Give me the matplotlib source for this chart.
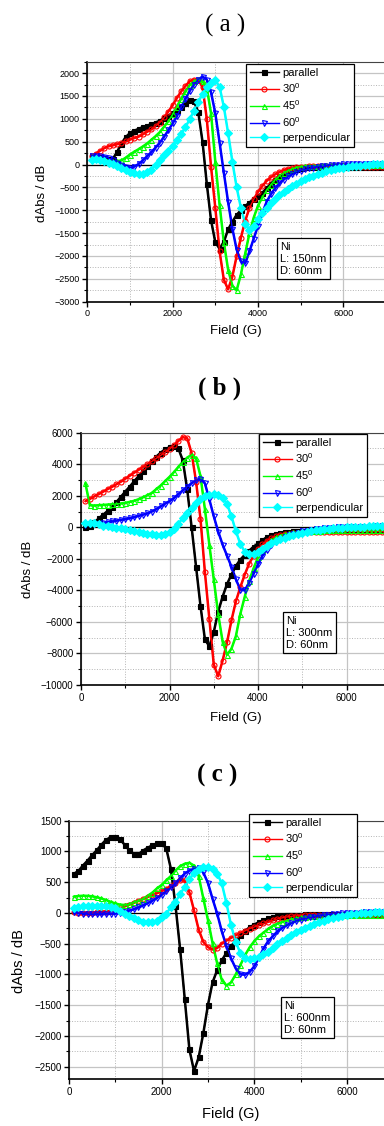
import matplotlib
matplotlib.use('Agg')
import matplotlib.pyplot as plt
from matplotlib.ticker import MultipleLocator

plt.rcParams['font.family'] = ['Liberation Sans', 'DejaVu Sans']
plt.rcParams['mathtext.default'] = 'regular'

# field axis (G), same sampling for every curve
field = list(range(100, 7001, 100))

labels = ['parallel', '30$^{0}$', '45$^{0}$', '60$^{0}$', 'perpendicular']

# ---- (a) L: 150nm ----
a_par = [180, 175, 165, 150, 130, 125, 280, 460, 600, 690,
         740, 780, 820, 850, 885, 920, 960, 1015, 1070, 1130,
         1195, 1270, 1350, 1405, 1380, 1150, 500, -420, -1220, -1700,
         -1840, -1690, -1420, -1250, -1100, -1000, -910, -830, -755, -690,
         -620, -520, -420, -330, -260, -200, -150, -115, -88, -68,
         -58, -52, -48, -45, -43, -42, -42, -42, -43, -44,
         -44, -45, -45, -46, -46, -47, -47, -48, -48, -48]
a_30 = [190, 240, 300, 360, 400, 420, 445, 470, 505, 545,
        580, 610, 660, 715, 770, 840, 920, 1030, 1160, 1300,
        1455, 1600, 1720, 1820, 1860, 1850, 1700, 1000, -50, -950,
        -1900, -2520, -2730, -2450, -2000, -1600, -1230, -950, -760, -600,
        -470, -360, -280, -215, -165, -125, -95, -75, -60, -50,
        -45, -42, -40, -39, -38, -38, -38, -39, -40, -40,
        -41, -42, -42, -43, -43, -44, -44, -45, -45, -45]
a_45 = [180, 165, 140, 115, 95, 80, 75, 90, 150, 220,
        280, 335, 395, 460, 540, 620, 710, 830, 950, 1100,
        1270, 1440, 1600, 1740, 1825, 1865, 1830, 1680, 1120, 60,
        -880, -1700, -2300, -2650, -2750, -2400, -1950, -1500, -1160, -900,
        -720, -560, -440, -330, -250, -185, -135, -95, -65, -45,
        -35, -28, -24, -21, -20, -19, -18, -18, -18, -18,
        -18, -18, -18, -18, -18, -18, -18, -18, -18, -18]
a_60 = [190, 192, 190, 175, 140, 95, 45, 0, -45, -75,
        -45, 10, 90, 180, 270, 370, 480, 610, 750, 900,
        1060, 1250, 1440, 1610, 1750, 1860, 1925, 1860, 1580, 1120,
        480, -180, -820, -1400, -1860, -2120, -2160, -1900, -1620, -1340,
        -1060, -820, -650, -520, -410, -330, -260, -210, -165, -130,
        -105, -85, -65, -50, -38, -25, -15, -8, -2, 2,
        5, 7, 9, 10, 11, 12, 13, 14, 15, 15]
a_perp = [110, 115, 105, 80, 45, 5, -40, -85, -125, -160,
          -185, -205, -205, -170, -110, -10, 100, 200, 300, 410,
          530, 670, 820, 990, 1180, 1360, 1550, 1690, 1785, 1845,
          1700, 1260, 690, 60, -500, -950, -1290, -1430, -1350, -1180,
          -1050, -940, -840, -750, -670, -600, -530, -470, -415, -360,
          -315, -275, -240, -205, -175, -148, -125, -105, -85, -68,
          -54, -42, -31, -22, -13, -5, 2, 9, 15, 20]

# ---- (b) L: 300nm ----
b_par = [20, 110, 310, 560, 800, 1030, 1260, 1600, 1930, 2260,
         2580, 2910, 3240, 3570, 3890, 4200, 4480, 4730, 4950, 5080,
         5180, 5000, 4250, 2400, 0, -2500, -4980, -7100, -7550, -6650,
         -5340, -4400, -3600, -3000, -2450, -2050, -1750, -1480, -1230, -1010,
         -820, -620, -500, -410, -350, -310, -280, -255, -235, -220,
         -210, -200, -195, -190, -185, -182, -180, -180, -180, -180,
         -180, -180, -180, -180, -180, -180, -180, -180, -180, -180]
b_30 = [1650, 1800, 1960, 2100, 2260, 2420, 2560, 2730, 2890, 3080,
        3270, 3460, 3640, 3820, 4000, 4180, 4370, 4560, 4750, 4960,
        5200, 5480, 5720, 5650, 4700, 2900, 550, -2850, -5800, -8700,
        -9450, -8450, -7300, -5900, -4700, -3800, -3000, -2300, -1800, -1400,
        -1080, -850, -690, -580, -490, -440, -400, -365, -340, -315,
        -300, -290, -282, -278, -275, -273, -272, -272, -272, -272,
        -272, -272, -272, -272, -272, -272, -272, -272, -272, -272]
b_45 = [2780, 1400, 1380, 1400, 1420, 1440, 1460, 1480, 1510, 1550,
        1610, 1680, 1780, 1900, 2040, 2180, 2420, 2650, 2930, 3200,
        3500, 3830, 4150, 4420, 4600, 4380, 3250, 1150, -1100, -3300,
        -5500, -7250, -8080, -7700, -6900, -5500, -4400, -3400, -2600, -1900,
        -1420, -1080, -820, -640, -520, -430, -370, -320, -290, -260,
        -245, -230, -220, -210, -200, -195, -190, -185, -180, -175,
        -170, -168, -165, -162, -160, -158, -155, -152, -150, -148]
b_60 = [150, 180, 210, 240, 280, 320, 370, 420, 470, 520,
        570, 640, 720, 800, 880, 1000, 1150, 1320, 1500, 1660,
        1850, 2100, 2340, 2570, 2800, 2980, 3050, 2790, 1770, 700,
        -270, -1100, -1800, -2500, -3300, -3950, -4000, -3500, -2950, -2350,
        -1800, -1420, -1100, -900, -720, -600, -500, -410, -330, -260,
        -210, -170, -130, -95, -65, -40, -20, -5, 5, 15,
        22, 28, 34, 40, 45, 50, 55, 58, 62, 65]
b_perp = [300, 300, 250, 180, 110, 70, 30, -15, -60, -120,
          -190, -250, -310, -360, -410, -450, -480, -480, -430, -300,
          -90, 230, 580, 930, 1250, 1530, 1790, 1960, 2060, 2090,
          2080, 1870, 1480, 700, -250, -1050, -1550, -1700, -1680, -1540,
          -1380, -1180, -1020, -870, -760, -660, -570, -470, -400, -340,
          -290, -240, -200, -165, -130, -100, -75, -50, -30, -10,
          5, 20, 35, 45, 55, 65, 75, 85, 95, 105]

# ---- (c) L: 600nm ----
c_par = [635, 680, 770, 850, 940, 1020, 1110, 1190, 1230, 1240,
         1200, 1110, 1020, 960, 955, 1015, 1060, 1100, 1130, 1130,
         1050, 720, 120, -590, -1400, -2220, -2570, -2350, -1960, -1500,
         -1130, -930, -770, -650, -540, -450, -365, -290, -235, -190,
         -150, -118, -90, -70, -55, -45, -38, -33, -30, -27,
         -25, -24, -23, -22, -22, -22, -22, -22, -22, -22,
         -22, -22, -22, -22, -22, -22, -22, -22, -22, -22]
c_30 = [15, 5, 0, 0, 2, 8, 15, 22, 32, 48,
        72, 105, 135, 165, 195, 225, 260, 290, 320, 355,
        395, 435, 480, 530, 530, 335, 40, -270, -470, -555,
        -595, -570, -500, -450, -405, -365, -325, -290, -255, -228,
        -200, -170, -145, -120, -98, -80, -65, -55, -47, -42,
        -38, -35, -32, -30, -28, -27, -27, -27, -27, -27,
        -27, -27, -27, -27, -27, -27, -27, -27, -27, -27]
c_45 = [265, 275, 280, 278, 270, 255, 235, 210, 180, 155,
        135, 130, 140, 175, 200, 230, 280, 330, 400, 455,
        530, 600, 690, 760, 800, 815, 770, 600, 240, -110,
        -490, -820, -1090, -1180, -1130, -1000, -850, -690, -560, -460,
        -380, -320, -260, -210, -175, -148, -125, -102, -86, -73,
        -63, -55, -48, -43, -39, -36, -34, -33, -33, -33,
        -33, -33, -33, -33, -33, -33, -33, -33, -33, -33]
c_60 = [10, 0, -12, -18, -22, -22, -20, -18, -15, -10,
        0, 20, 38, 60, 90, 122, 160, 198, 245, 295,
        355, 415, 485, 565, 640, 690, 718, 725, 660, 490,
        230, -10, -300, -540, -740, -900, -995, -1005, -960, -870,
        -730, -580, -460, -380, -300, -245, -200, -165, -135, -110,
        -90, -72, -58, -46, -36, -27, -20, -13, -7, -2,
        2, 5, 7, 9, 10, 11, 12, 13, 14, 15]
c_perp = [75, 95, 108, 115, 118, 120, 119, 115, 100, 75,
          35, -10, -50, -90, -120, -140, -150, -150, -125, -70,
          -10, 90, 185, 300, 430, 550, 650, 720, 750, 755,
          720, 640, 480, 160, -200, -470, -650, -730, -750, -735,
          -715, -670, -630, -570, -510, -460, -410, -360, -315, -275,
          -240, -210, -180, -150, -125, -100, -82, -65, -50, -35,
          -25, -15, -7, 0, 5, 10, 15, 18, 21, 24]

styles = [
    dict(color='black', marker='s', mfc='black', mec='black'),
    dict(color='red', marker='o', mfc='none', mec='red'),
    dict(color='#00ff00', marker='^', mfc='none', mec='#00ff00'),
    dict(color='blue', marker='v', mfc='none', mec='blue'),
    dict(color='cyan', marker='D', mfc='cyan', mec='cyan'),
]

W, H = 384, 1126
fig = plt.figure(figsize=(W / 100, H / 100), dpi=100)

panels = [
    dict(series=[a_par, a_30, a_45, a_60, a_perp], title='( a )', bold=False,
         box=(87.3, 61.7, 384, 301.7), xmax=6953, ylim=(-3000, 2250),
         ymaj=500, ymin=250, tsize=6.5, lsize=9.5,
         tpos=(225, 25), ylab=(42, 193), xlab=(236, 331),
         leg=(246, 64), note=(277, 237), note_txt='Ni\nL: 150nm\nD: 60nm'),
    dict(series=[b_par, b_30, b_45, b_60, b_perp], title='( b )', bold=True,
         box=(81, 432.7, 384, 685), xmax=6847, ylim=(-10000, 6000),
         ymaj=2000, ymin=1000, tsize=7, lsize=9.5,
         tpos=(220, 388), ylab=(28, 569), xlab=(236, 718),
         leg=(259, 434), note=(283, 611), note_txt='Ni\nL: 300nm\nD: 60nm'),
    dict(series=[c_par, c_30, c_45, c_60, c_perp], title='( c )', bold=True,
         box=(69, 820.7, 384, 1079.3), xmax=6803, ylim=(-2705, 1500),
         ymaj=500, ymin=250, tsize=7, lsize=10.5,
         tpos=(217, 775), ylab=(19, 961), xlab=(231, 1114),
         leg=(249, 814), note=(281, 996), note_txt='Ni\nL: 600nm\nD: 60nm'),
]

for p in panels:
    x0, y0, x1, y1 = p['box']
    ax = fig.add_axes([x0 / W, 1 - y1 / H, (x1 - x0) / W, (y1 - y0) / H])
    ax.set_xlim(0, p['xmax'])
    ax.set_ylim(*p['ylim'])

    ax.xaxis.set_major_locator(MultipleLocator(2000))
    ax.xaxis.set_minor_locator(MultipleLocator(1000))
    ax.yaxis.set_major_locator(MultipleLocator(p['ymaj']))
    ax.yaxis.set_minor_locator(MultipleLocator(p['ymin']))
    ax.grid(which='major', color='#c4c4c4', lw=0.9, ls='-')
    ax.grid(which='minor', color='#b4b4b4', lw=0.7, ls=':')
    ax.set_axisbelow(True)

    ax.spines['right'].set_visible(False)
    ax.spines['top'].set_color('#444444')
    for s in ['left', 'bottom']:
        ax.spines[s].set_linewidth(1.2)
    ax.tick_params(axis='both', which='major', direction='out', length=3.5,
                   width=1, labelsize=p['tsize'], pad=2)
    ax.tick_params(axis='both', which='minor', direction='out', length=2, width=0.8)

    ax.axhline(0, color='black', lw=0.9, zorder=1.5)

    handles = []
    for ys, st, lab in zip(p['series'], styles, labels):
        # thick band under the markers, like the dense point cloud of the original
        ax.plot(field, ys, color=st['color'], lw=1.8, zorder=2.9, solid_capstyle='round')
        h, = ax.plot(field, ys, color=st['color'], lw=1.0, marker=st['marker'],
                     markersize=3.6, mfc=st['mfc'], mec=st['mec'], mew=0.8,
                     label=lab, zorder=3)
        handles.append(h)

    lx, ly = p['leg']
    leg = ax.legend(handles=handles, loc='upper left',
                    bbox_to_anchor=(lx / W, 1 - ly / H), bbox_transform=fig.transFigure,
                    fontsize=8, frameon=True, fancybox=False, edgecolor='black',
                    framealpha=1, borderpad=0.35, labelspacing=0.3,
                    handlelength=2.6, handletextpad=0.3, numpoints=1, borderaxespad=0)
    leg.get_frame().set_linewidth(0.9)
    leg.set_zorder(5)

    nx, ny = p['note']
    fig.text(nx / W + 0.008, 1 - ny / H - 0.004, p['note_txt'], fontsize=8,
             va='top', ha='left', linespacing=1.25,
             bbox=dict(boxstyle='square,pad=0.3', fc='white', ec='black', lw=0.9))

    tx, ty = p['tpos']
    fig.text(tx / W, 1 - ty / H, p['title'], family='Liberation Serif', fontsize=18,
             fontweight='bold' if p['bold'] else 'normal', ha='center', va='center')
    yx, yy = p['ylab']
    fig.text(yx / W, 1 - yy / H, 'dAbs / dB', fontsize=p['lsize'], rotation=90,
             ha='center', va='center')
    xx, xy = p['xlab']
    fig.text(xx / W, 1 - xy / H, 'Field (G)', fontsize=p['lsize'],
             ha='center', va='center')

fig.savefig('out.png', dpi=100)
